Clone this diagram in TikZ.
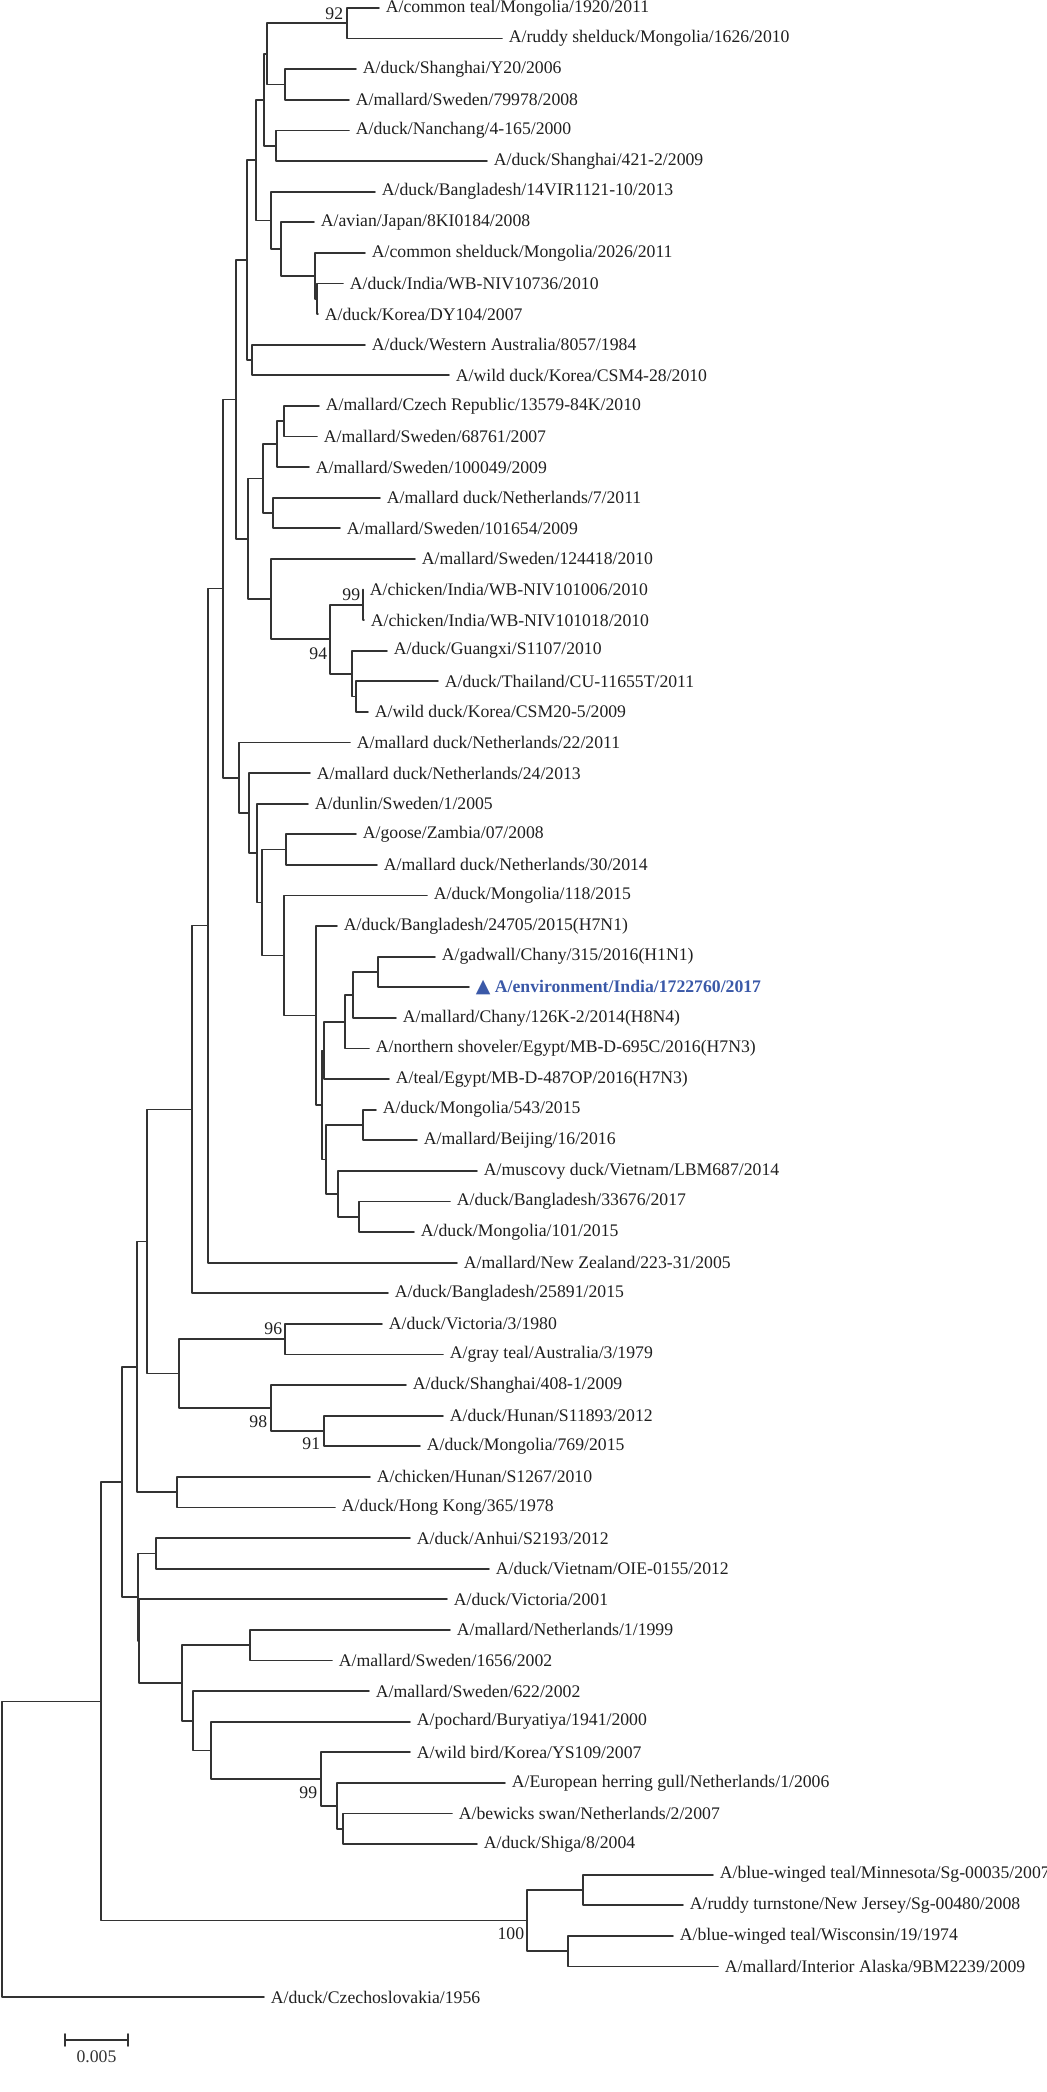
\documentclass[tikz,border=0pt]{standalone}
\usepackage{fontspec}
\setmainfont{Liberation Serif}
\newfontfamily\symfont{DejaVu Sans}
\usetikzlibrary{calc}
\definecolor{envblue}{RGB}{59,89,168}

\begin{document}
\begin{tikzpicture}[line cap=round,line join=round,x=0.5pt,y=-0.5pt,color=black!80,line width=0.85pt,
        font=\fontsize{8.85}{10}\selectfont,
        leaf/.style={anchor=west,inner xsep=3pt,inner ysep=1pt,text=black!88},
        boot/.style={anchor=east,inner sep=0pt,text=black!88}]
        \useasboundingbox (0,0) rectangle (1046,2092);
        \node[leaf] (l1) at (379,8) {A/common teal/Mongolia/1920/2011};
        \node[leaf] (l2) at (502,38.6) {A/ruddy shelduck/Mongolia/1626/2010};
        \node[leaf] (l3) at (356,69.2) {A/duck/Shanghai/Y20/2006};
        \node[leaf] (l4) at (349,99.8) {A/mallard/Sweden/79978/2008};
        \node[leaf] (l5) at (349,130.4) {A/duck/Nanchang/4-165/2000};
        \node[leaf] (l6) at (487,161.1) {A/duck/Shanghai/421-2/2009};
        \node[leaf] (l7) at (375,191.7) {A/duck/Bangladesh/14VIR1121-10/2013};
        \node[leaf] (l8) at (314,222.3) {A/avian/Japan/8KI0184/2008};
        \node[leaf] (l9) at (365,252.9) {A/common shelduck/Mongolia/2026/2011};
        \node[leaf] (l10) at (343,283.5) {A/duck/India/WB-NIV10736/2010};
        \node[leaf] (l11) at (318,314.1) {A/duck/Korea/DY104/2007};
        \node[leaf] (l12) at (365,344.7) {A/duck/Western Australia/8057/1984};
        \node[leaf] (l13) at (449,375.3) {A/wild duck/Korea/CSM4-28/2010};
        \node[leaf] (l14) at (319,405.9) {A/mallard/Czech Republic/13579-84K/2010};
        \node[leaf] (l15) at (317,436.5) {A/mallard/Sweden/68761/2007};
        \node[leaf] (l16) at (309,467.1) {A/mallard/Sweden/100049/2009};
        \node[leaf] (l17) at (380,497.7) {A/mallard duck/Netherlands/7/2011};
        \node[leaf] (l18) at (340,528.3) {A/mallard/Sweden/101654/2009};
        \node[leaf] (l19) at (415,558.9) {A/mallard/Sweden/124418/2010};
        \node[leaf] (l20) at (363,589.5) {A/chicken/India/WB-NIV101006/2010};
        \node[leaf] (l21) at (364,620.1) {A/chicken/India/WB-NIV101018/2010};
        \node[leaf] (l22) at (387,650.7) {A/duck/Guangxi/S1107/2010};
        \node[leaf] (l23) at (438,681.3) {A/duck/Thailand/CU-11655T/2011};
        \node[leaf] (l24) at (368,711.9) {A/wild duck/Korea/CSM20-5/2009};
        \node[leaf] (l25) at (350,742.5) {A/mallard duck/Netherlands/22/2011};
        \node[leaf] (l26) at (310,773.1) {A/mallard duck/Netherlands/24/2013};
        \node[leaf] (l27) at (308,803.7) {A/dunlin/Sweden/1/2005};
        \node[leaf] (l28) at (356,834.3) {A/goose/Zambia/07/2008};
        \node[leaf] (l29) at (377,864.9) {A/mallard duck/Netherlands/30/2014};
        \node[leaf] (l30) at (427,895.5) {A/duck/Mongolia/118/2015};
        \node[leaf] (l31) at (337,926.1) {A/duck/Bangladesh/24705/2015(H7N1)};
        \node[leaf] (l32) at (435,956.7) {A/gadwall/Chany/315/2016(H1N1)};
        \node[leaf,text=envblue,font=\fontsize{8.85}{10}\selectfont\bfseries] (l33) at (469,987.3) {{\symfont\fontsize{9.5}{10}\selectfont ▲} A/environment/India/1722760/2017};
        \node[leaf] (l34) at (396,1017.9) {A/mallard/Chany/126K-2/2014(H8N4)};
        \node[leaf] (l35) at (369,1048.5) {A/northern shoveler/Egypt/MB-D-695C/2016(H7N3)};
        \node[leaf] (l36) at (389,1079.1) {A/teal/Egypt/MB-D-487OP/2016(H7N3)};
        \node[leaf] (l37) at (376,1109.7) {A/duck/Mongolia/543/2015};
        \node[leaf] (l38) at (417,1140.3) {A/mallard/Beijing/16/2016};
        \node[leaf] (l39) at (477,1170.9) {A/muscovy duck/Vietnam/LBM687/2014};
        \node[leaf] (l40) at (450,1201.5) {A/duck/Bangladesh/33676/2017};
        \node[leaf] (l41) at (414,1232.1) {A/duck/Mongolia/101/2015};
        \node[leaf] (l42) at (457,1262.7) {A/mallard/New Zealand/223-31/2005};
        \node[leaf] (l43) at (388,1293.3) {A/duck/Bangladesh/25891/2015};
        \node[leaf] (l44) at (382,1323.9) {A/duck/Victoria/3/1980};
        \node[leaf] (l45) at (443,1354.5) {A/gray teal/Australia/3/1979};
        \node[leaf] (l46) at (406,1385.1) {A/duck/Shanghai/408-1/2009};
        \node[leaf] (l47) at (443,1415.7) {A/duck/Hunan/S11893/2012};
        \node[leaf] (l48) at (420,1446.3) {A/duck/Mongolia/769/2015};
        \node[leaf] (l49) at (370,1476.9) {A/chicken/Hunan/S1267/2010};
        \node[leaf] (l50) at (335,1507.5) {A/duck/Hong Kong/365/1978};
        \node[leaf] (l51) at (410,1538.1) {A/duck/Anhui/S2193/2012};
        \node[leaf] (l52) at (489,1568.7) {A/duck/Vietnam/OIE-0155/2012};
        \node[leaf] (l53) at (447,1599.3) {A/duck/Victoria/2001};
        \node[leaf] (l54) at (450,1629.9) {A/mallard/Netherlands/1/1999};
        \node[leaf] (l55) at (332,1660.5) {A/mallard/Sweden/1656/2002};
        \node[leaf] (l56) at (369,1691.1) {A/mallard/Sweden/622/2002};
        \node[leaf] (l57) at (410,1721.7) {A/pochard/Buryatiya/1941/2000};
        \node[leaf] (l58) at (410,1752.3) {A/wild bird/Korea/YS109/2007};
        \node[leaf] (l59) at (505,1782.9) {A/European herring gull/Netherlands/1/2006};
        \node[leaf] (l60) at (452,1813.5) {A/bewicks swan/Netherlands/2/2007};
        \node[leaf] (l61) at (477,1844.1) {A/duck/Shiga/8/2004};
        \node[leaf] (l62) at (713,1874.7) {A/blue-winged teal/Minnesota/Sg-00035/2007};
        \node[leaf] (l63) at (683,1905.3) {A/ruddy turnstone/New Jersey/Sg-00480/2008};
        \node[leaf] (l64) at (673,1935.9) {A/blue-winged teal/Wisconsin/19/1974};
        \node[leaf] (l65) at (718,1966.5) {A/mallard/Interior Alaska/9BM2239/2009};
        \node[leaf] (l66) at (264,1997.1) {A/duck/Czechoslovakia/1956};
        \coordinate (na) at (347,23.3);
        \coordinate (nb) at (285,84.5);
        \coordinate (nab) at (267,53.9);
        \coordinate (nc) at (276,145.8);
        \coordinate (nabc) at (264,99.8);
        \coordinate (ng) at (317,298.8);
        \coordinate (nf) at (315,275.9);
        \coordinate (ne) at (281,249.1);
        \coordinate (nd) at (271,220.4);
        \coordinate (nabcd) at (256,160.1);
        \coordinate (nh) at (252,360);
        \coordinate (nabcdh) at (247,260);
        \coordinate (nk1a) at (284,421.2);
        \coordinate (nk1) at (277,444.2);
        \coordinate (nk2) at (273,513);
        \coordinate (nk) at (263,478.6);
        \coordinate (nn) at (363,604.8);
        \coordinate (np) at (356,696.6);
        \coordinate (no) at (352,673.7);
        \coordinate (nm) at (330,639.2);
        \coordinate (nl) at (271,599.1);
        \coordinate (nj) at (248,538.8);
        \coordinate (ni) at (236,399.4);
        \coordinate (nw) at (286,849.6);
        \coordinate (nz0) at (378,972);
        \coordinate (nz1) at (353,995);
        \coordinate (nz2) at (345,1021.7);
        \coordinate (nz3) at (324,1050.4);
        \coordinate (nz6) at (363,1125);
        \coordinate (nz8) at (359,1216.8);
        \coordinate (nz7) at (338,1193.8);
        \coordinate (nz5) at (326,1159.4);
        \coordinate (nz4) at (322,1104.9);
        \coordinate (nx) at (316,1015.5);
        \coordinate (nv) at (284,955.5);
        \coordinate (nu) at (262,902.5);
        \coordinate (nt) at (257,853.1);
        \coordinate (ns) at (249,813.1);
        \coordinate (nr) at (239,777.8);
        \coordinate (nq) at (223,588.6);
        \coordinate (nbb) at (208,925.6);
        \coordinate (ncc) at (192,1109.5);
        \coordinate (nff) at (285,1339.2);
        \coordinate (nhh) at (324,1431);
        \coordinate (ngg) at (271,1408);
        \coordinate (nee) at (179,1373.6);
        \coordinate (ndd) at (147,1241.5);
        \coordinate (njj) at (177,1492.2);
        \coordinate (nii) at (137,1366.9);
        \coordinate (nmm) at (156,1553.4);
        \coordinate (noo) at (250,1645.2);
        \coordinate (ntt) at (343,1828.8);
        \coordinate (nss) at (337,1805.9);
        \coordinate (nrr) at (321,1779.1);
        \coordinate (nqq) at (211,1750.4);
        \coordinate (npp) at (193,1720.8);
        \coordinate (nnn) at (182,1683);
        \coordinate (nll2) at (139,1641.1);
        \coordinate (nll) at (138,1597.3);
        \coordinate (nkk) at (122,1482.1);
        \coordinate (nww) at (583,1890);
        \coordinate (nxx) at (568,1951.2);
        \coordinate (nvv) at (527,1920.6);
        \coordinate (nuu) at (101,1701.4);
        \coordinate (root) at (2,1849);
        \draw [] (na) |- (l1.west);
        \draw [] (na) |- (l2.west);
        \draw [] (nb) |- (l3.west);
        \draw [] (nb) |- (l4.west);
        \draw [] (nab) |- (na);
        \draw [] (nab) |- (nb);
        \draw [] (nc) |- (l5.west);
        \draw [] (nc) |- (l6.west);
        \draw [] (nabc) |- (nab);
        \draw [] (nabc) |- (nc);
        \draw [] (ng) |- (l10.west);
        \draw [] (ng) |- (l11.west);
        \draw [] (nf) |- (l9.west);
        \draw [] (nf) |- (ng);
        \draw [] (ne) |- (l8.west);
        \draw [] (ne) |- (nf);
        \draw [] (nd) |- (l7.west);
        \draw [] (nd) |- (ne);
        \draw [] (nabcd) |- (nabc);
        \draw [] (nabcd) |- (nd);
        \draw [] (nh) |- (l12.west);
        \draw [] (nh) |- (l13.west);
        \draw [] (nabcdh) |- (nabcd);
        \draw [] (nabcdh) |- (nh);
        \draw [] (nk1a) |- (l14.west);
        \draw [] (nk1a) |- (l15.west);
        \draw [] (nk1) |- (nk1a);
        \draw [] (nk1) |- (l16.west);
        \draw [] (nk2) |- (l17.west);
        \draw [] (nk2) |- (l18.west);
        \draw [] (nk) |- (nk1);
        \draw [] (nk) |- (nk2);
        \draw [] (nn) |- (l20.west);
        \draw [] (nn) |- (l21.west);
        \draw [] (np) |- (l23.west);
        \draw [] (np) |- (l24.west);
        \draw [] (no) |- (l22.west);
        \draw [] (no) |- (np);
        \draw [] (nm) |- (nn);
        \draw [] (nm) |- (no);
        \draw [] (nl) |- (l19.west);
        \draw [] (nl) |- (nm);
        \draw [] (nj) |- (nk);
        \draw [] (nj) |- (nl);
        \draw [] (ni) |- (nabcdh);
        \draw [] (ni) |- (nj);
        \draw [] (nw) |- (l28.west);
        \draw [] (nw) |- (l29.west);
        \draw [] (nz0) |- (l32.west);
        \draw [] (nz0) |- (l33.west);
        \draw [] (nz1) |- (nz0);
        \draw [] (nz1) |- (l34.west);
        \draw [] (nz2) |- (nz1);
        \draw [] (nz2) |- (l35.west);
        \draw [] (nz3) |- (nz2);
        \draw [] (nz3) |- (l36.west);
        \draw [] (nz6) |- (l37.west);
        \draw [] (nz6) |- (l38.west);
        \draw [] (nz8) |- (l40.west);
        \draw [] (nz8) |- (l41.west);
        \draw [] (nz7) |- (l39.west);
        \draw [] (nz7) |- (nz8);
        \draw [] (nz5) |- (nz6);
        \draw [] (nz5) |- (nz7);
        \draw [] (nz4) |- (nz3);
        \draw [] (nz4) |- (nz5);
        \draw [] (nx) |- (l31.west);
        \draw [] (nx) |- (nz4);
        \draw [] (nv) |- (l30.west);
        \draw [] (nv) |- (nx);
        \draw [] (nu) |- (nw);
        \draw [] (nu) |- (nv);
        \draw [] (nt) |- (l27.west);
        \draw [] (nt) |- (nu);
        \draw [] (ns) |- (l26.west);
        \draw [] (ns) |- (nt);
        \draw [] (nr) |- (l25.west);
        \draw [] (nr) |- (ns);
        \draw [] (nq) |- (ni);
        \draw [] (nq) |- (nr);
        \draw [] (nbb) |- (nq);
        \draw [] (nbb) |- (l42.west);
        \draw [] (ncc) |- (nbb);
        \draw [] (ncc) |- (l43.west);
        \draw [] (nff) |- (l44.west);
        \draw [] (nff) |- (l45.west);
        \draw [] (nhh) |- (l47.west);
        \draw [] (nhh) |- (l48.west);
        \draw [] (ngg) |- (l46.west);
        \draw [] (ngg) |- (nhh);
        \draw [] (nee) |- (nff);
        \draw [] (nee) |- (ngg);
        \draw [] (ndd) |- (ncc);
        \draw [] (ndd) |- (nee);
        \draw [] (njj) |- (l49.west);
        \draw [] (njj) |- (l50.west);
        \draw [] (nii) |- (ndd);
        \draw [] (nii) |- (njj);
        \draw [] (nmm) |- (l51.west);
        \draw [] (nmm) |- (l52.west);
        \draw [] (noo) |- (l54.west);
        \draw [] (noo) |- (l55.west);
        \draw [] (ntt) |- (l60.west);
        \draw [] (ntt) |- (l61.west);
        \draw [] (nss) |- (l59.west);
        \draw [] (nss) |- (ntt);
        \draw [] (nrr) |- (l58.west);
        \draw [] (nrr) |- (nss);
        \draw [] (nqq) |- (l57.west);
        \draw [] (nqq) |- (nrr);
        \draw [] (npp) |- (l56.west);
        \draw [] (npp) |- (nqq);
        \draw [] (nnn) |- (noo);
        \draw [] (nnn) |- (npp);
        \draw [] (nll2) |- (l53.west);
        \draw [] (nll2) |- (nnn);
        \draw [] (nll) |- (nmm);
        \draw [] (nll) |- (nll2);
        \draw [] (nkk) |- (nii);
        \draw [] (nkk) |- (nll);
        \draw [] (nww) |- (l62.west);
        \draw [] (nww) |- (l63.west);
        \draw [] (nxx) |- (l64.west);
        \draw [] (nxx) |- (l65.west);
        \draw [] (nvv) |- (nww);
        \draw [] (nvv) |- (nxx);
        \draw [] (nuu) |- (nkk);
        \draw [] (nuu) |- (nvv);
        \draw [] (root) |- (nuu);
        \draw [] (root) |- (l66.west);
        \node[boot] (b92) at (344,14) {92};
        \node[boot] (b99a) at (361,595) {99};
        \node[boot] (b94) at (328,654) {94};
        \node[boot] (b96) at (283,1329) {96};
        \node[boot] (b98) at (268,1422) {98};
        \node[boot] (b91) at (321,1444) {91};
        \node[boot] (b99b) at (318,1793) {99};
        \node[boot] (b100) at (525,1934) {100};
        \coordinate (sb1) at (65,2040);
        \coordinate (sb2) at (128,2040);
        \draw [] (sb1)-- (sb2);
        \draw [] ($(sb1)+(0,-6)$)-- ($(sb1)+(0,6)$);
        \draw [] ($(sb2)+(0,-6)$)-- ($(sb2)+(0,6)$);
        \node (sbl) at (96.5,2057) {0.005};
\end{tikzpicture}
\end{document}
